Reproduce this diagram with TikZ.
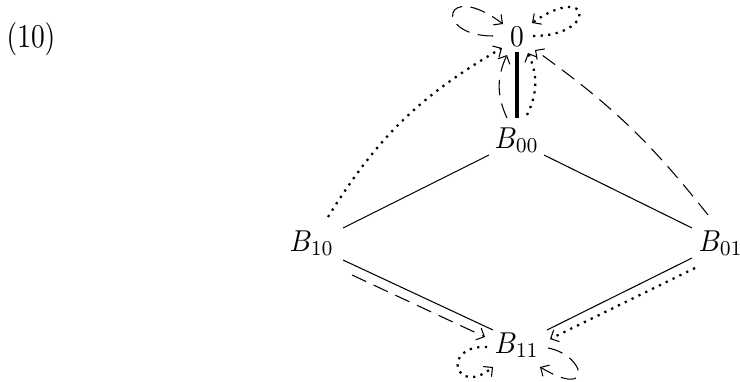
\documentclass[tikz,border=0pt]{standalone}
\usetikzlibrary{arrows.meta}
\begin{document}
\begin{tikzpicture}[x=0.025cm,y=-0.025cm,
  every node/.style={xscale=1.95,yscale=2.15,inner sep=1.5pt},
  thin line/.style={line width=0.75pt},
  dashline/.style={line width=0.75pt,dash pattern=on 11pt off 6pt},
  dotline/.style={line width=1.6pt,dash pattern=on 1.6pt off 3.8pt},
  tip/.style={-{Straight Barb[length=4.5pt,width=9pt,line width=0.75pt,line cap=round]}}]
\useasboundingbox (0,0) rectangle (740,381);
\node[xscale=1,yscale=1.1] (lab) at (31,39) {(10)};
\node (z) at (517,37) {$0$};
\node (a) at (517,140) {$B_{00}$};
\node (b) at (312,243) {$B_{10}$};
\node (c) at (721,243) {$B_{01}$};
\node (d) at (517,345) {$B_{11}$};
% solid lines
\draw[thin line] ([shift={(-28,15)}]a.center) -- ([shift={(31,-15)}]b.center);
\draw[thin line] ([shift={(27,15)}]a.center) -- ([shift={(-29,-15)}]c.center);
\draw[thin line] ([shift={(31,17)}]b.center) -- ([shift={(-24,-15)}]d.center);
\draw[thin line] ([shift={(-29,15)}]c.center) -- ([shift={(30,-15)}]d.center);
\draw[line width=2.2pt] ([shift={(0,15)}]z.center) -- ([shift={(0,-22)}]a.center);
% B00 -> 0
\draw[dashline,tip] ([shift={(-10,-22)}]a.center) to[bend left=25] ([shift={(-10,18)}]z.center);
\draw[dotline,tip] ([shift={(10,-25)}]a.center) to[bend right=25] ([shift={(11,16)}]z.center);
% B10 -> 0, B01 -> 0
\draw[dotline,tip] ([shift={(16,-26)}]b.center) to[bend left=14] ([shift={(-15,11)}]z.center);
\draw[dashline,tip] ([shift={(-13,-28)}]c.center) to[bend right=8] ([shift={(18,13)}]z.center);
% to B11
\draw[dashline,tip] ([shift={(40,32)}]b.center) -- ([shift={(-32,-8)}]d.center);
\draw[dotline,tip] ([shift={(-26,25)}]c.center) -- ([shift={(33,-6)}]d.center);
% loops at 0
\draw[dashline,tip] ([shift={(-24,-1)}]z.center) .. controls +(-60,0) and +(-60,-45) .. ([shift={(-14,-13)}]z.center);
\draw[dotline,tip] ([shift={(16,-1)}]z.center) .. controls +(65,0) and +(60,-42) .. ([shift={(15,-14)}]z.center);
% loops at B11
\draw[dotline,tip] ([shift={(-30,2)}]d.center) .. controls +(-47,-2) and +(-38,31) .. ([shift={(-24,22)}]d.center);
\draw[dashline,tip] ([shift={(31,3)}]d.center) .. controls +(37,7) and +(55,33) .. ([shift={(23,22)}]d.center);
\end{tikzpicture}
\end{document}
